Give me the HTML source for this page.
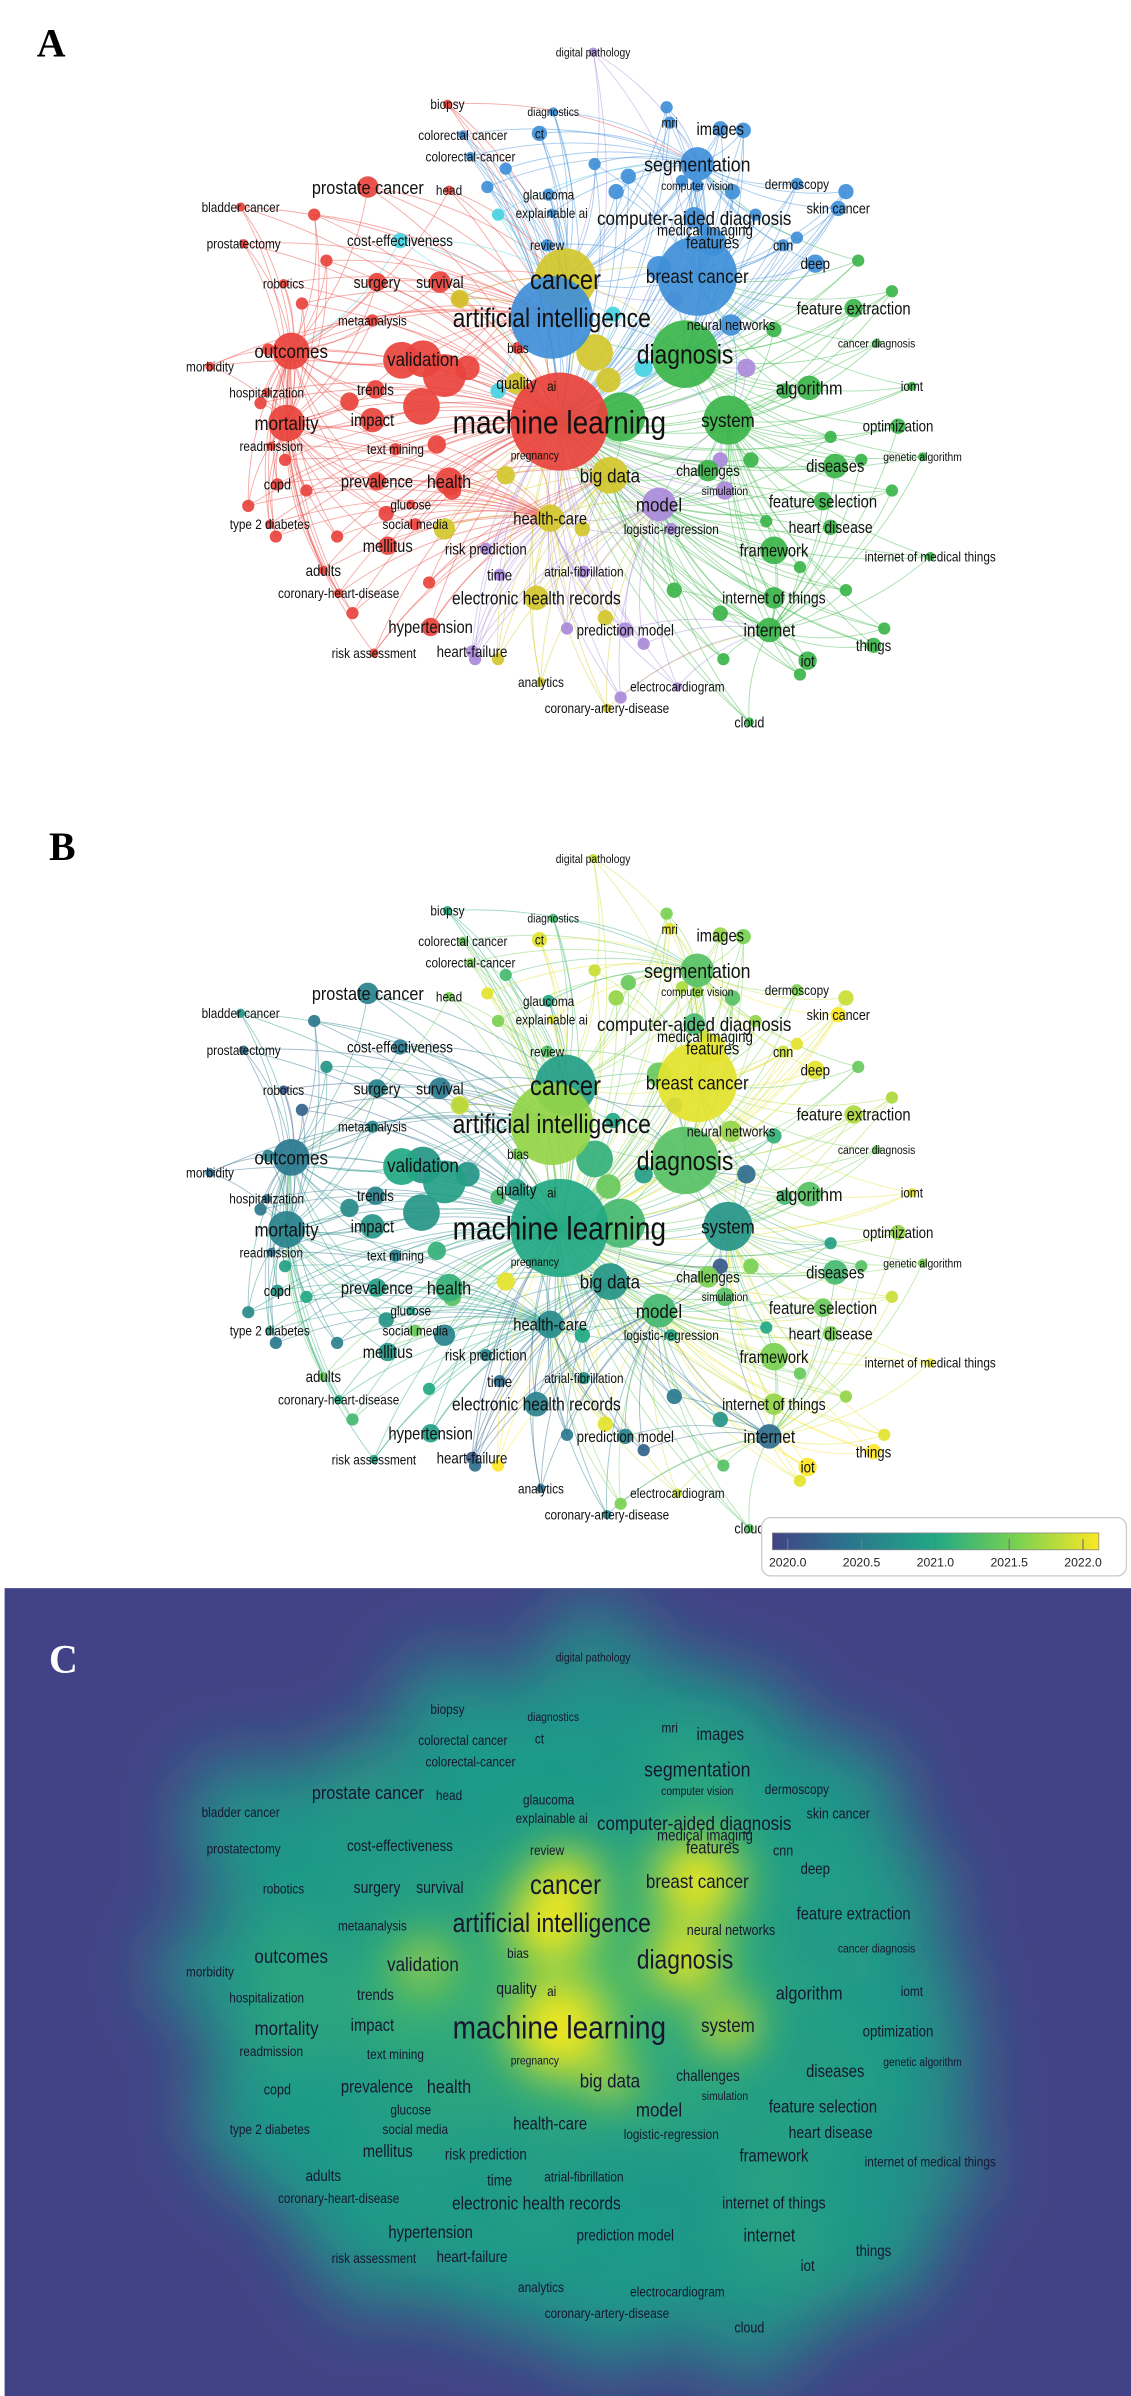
<!DOCTYPE html>
<html><head><meta charset="utf-8">
<style>
html,body{margin:0;padding:0;background:#fff;}
svg{display:block;}
.lbl{font-family:"Liberation Sans",sans-serif;}
.letter{font-family:"Liberation Serif",serif;font-weight:bold;}
</style></head>
<body>
<svg id="fig" width="1131" height="2396" viewBox="0 0 738 1563" preserveAspectRatio="none" xmlns="http://www.w3.org/2000/svg">
<defs>
<filter id="blurBig" x="-50%" y="-50%" width="200%" height="200%"><feGaussianBlur stdDeviation="22"/></filter>
<filter id="blurMid" x="-50%" y="-50%" width="200%" height="200%"><feGaussianBlur stdDeviation="14"/></filter>
<linearGradient id="viridisGrad" x1="0" x2="1" y1="0" y2="0">
<stop offset="0" stop-color="#414487"/><stop offset="0.25" stop-color="#2a788e"/><stop offset="0.5" stop-color="#22a884"/><stop offset="0.75" stop-color="#7ad151"/><stop offset="1" stop-color="#fde725"/>
</linearGradient>
</defs>
<g id="panelA"></g>
<g id="panelB"></g>
<g id="panelC"></g>
</svg>
<script>
// ---- data (layout coordinates in display units, panel A frame) ----
const labels = ["digital pathology","mri","images","segmentation","biopsy","diagnostics","colorectal cancer","ct","colorectal-cancer","computer vision","dermoscopy","glaucoma","computer-aided diagnosis","skin cancer","prostate cancer","head","bladder cancer","explainable ai","medical imaging","prostatectomy","cost-effectiveness","review","features","cnn","deep","surgery","survival","cancer","breast cancer","robotics","feature extraction","metaanalysis","artificial intelligence","neural networks","cancer diagnosis","outcomes","morbidity","validation","bias","diagnosis","hospitalization","trends","quality","ai","algorithm","iomt","mortality","impact","machine learning","system","optimization","readmission","text mining","pregnancy","genetic algorithm","diseases","copd","prevalence","health","big data","challenges","simulation","model","feature selection","glucose","type 2 diabetes","social media","health-care","logistic-regression","heart disease","mellitus","risk prediction","framework","internet of medical things","adults","time","atrial-fibrillation","coronary-heart-disease","electronic health records","internet of things","hypertension","prediction model","internet","risk assessment","heart-failure","iot","things","analytics","electrocardiogram","coronary-artery-disease","cloud"];
const nodeX = [387,437,470,455,292,361,302,352,307,455,520,358,453,547,240,293,157,360,460,159,261,357,465,511,532,246,287,369,455,185,557,243,360,477,572,190,137,276,338,447,174,245,337,360,528,595,187,243,365,475,586,177,258,349,602,545,181,246,293,398,462,473,430,537,268,176,271,359,438,542,253,317,505,607,211,326,381,221,350,505,281,408,502,244,308,527,570,353,442,396,489];
const nodeY = [34,80,84,107,68,73,88,87,102,121,120,127,142,136,122,124,135,139,150,159,157,160,158,160,172,184,184,182,180,185,201,209,207,212,224,229,239,234,227,231,256,254,250,252,253,252,276,274,275,274,278,291,293,297,298,304,316,314,314,310,307,320,329,327,329,342,342,338,345,344,356,358,359,363,372,375,373,387,390,390,409,411,411,426,425,431,421,445,448,462,471];
const fontSizes = [7,8,10,12,8,7,8,8,8,7,8,8,11.5,8.5,11,8,8,8,9,8,9,8,10,8.5,9,9.5,9.5,16,11.5,8,10,8,15.5,8.5,7,11.5,8,11.5,8,15.5,8,9,9.5,8,11,8,11.5,10,19,11.5,9,8,8,7,7,10,8.5,10,11,11.5,9,7,11.5,10,8,8,8,10,8,9.5,10,9,10,8,9,9,8,8,10.5,9.5,10,9,10.5,8,9,9,9,8,8,8,8.5];
const radii = [3,4,5,11,3,3,3,5,3,4,4,4,7,5,7,3,3,3,4,3,5,4,9,4,6,6,7,20,26,3,6,4,27,7,3,12,3,12,4,22,3,6,7,4,8,3,12,8,32,16,5,3,4,3,3,8,4,6,9,12,7,6,11,6,3,3,4,9,4,5,6,4,9,3,3,4,4,3,8,7,6,5,8,3,4,6,5,3,3,3,3];
const clusters = ["p","b","b","b","r","b","b","b","b","b","b","b","b","b","r","r","r","b","b","r","c","b","b","b","b","r","r","y","b","r","g","r","b","b","g","r","r","r","r","g","r","r","y","y","g","g","r","r","r","g","g","r","r","r","g","g","r","r","r","y","g","p","p","g","r","r","r","y","p","g","r","p","g","g","r","p","p","r","y","g","r","p","g","r","p","g","g","y","p","y","g"];
const years = [2021.8,2021.9,2021.6,2021.3,2021.0,2021.2,2021.4,2021.9,2021.5,2021.6,2021.5,2021.0,2021.2,2022.0,2020.6,2021.5,2020.8,2021.9,2021.8,2020.4,2020.5,2021.3,2021.9,2021.8,2021.9,2020.6,2020.5,2020.9,2021.9,2020.2,2021.7,2020.7,2021.6,2021.6,2021.4,2020.5,2020.4,2020.8,2021.5,2021.3,2020.4,2020.6,2020.9,2021.8,2021.3,2021.9,2020.6,2020.8,2021.0,2020.8,2021.6,2020.4,2020.6,2020.6,2021.5,2021.2,2020.8,2020.9,2021.1,2020.8,2021.5,2021.3,2021.2,2021.4,2020.9,2020.9,2021.4,2020.7,2021.0,2021.5,2020.8,2020.6,2021.5,2021.9,2021.4,2020.4,2020.8,2021.0,2020.6,2021.6,2020.9,2020.6,2020.4,2021.0,2020.2,2022.0,2022.0,2020.4,2021.8,2020.6,2021.3];
const extraX = [205,213,197,175,170,186,162,200,220,230,300,305,290,262,228,252,285,180,280,295,275,435,445,410,388,330,318,478,493,552,430,402,520,485,560,582,505,512,542,562,490,500,582,522,552,577,470,440,522,472,405,300,388,397,330,380,290,325,395,440,487,470,370,420,405,310,325,325,400,420];
const extraY = [140,170,198,228,263,300,330,320,350,400,195,240,245,235,262,335,290,350,380,320,265,70,118,115,107,110,122,125,140,125,175,125,155,85,170,190,215,255,285,300,300,340,320,370,385,410,400,385,440,430,272,195,230,248,310,345,345,430,403,195,240,300,410,420,455,430,255,140,205,240];
const extraR = [4,4,4,4,4,4,4,4,4,4,5,8,14,12,6,5,6,4,4,6,12,4,4,5,4,4,4,5,4,5,8,5,4,5,4,4,5,5,4,4,5,4,4,4,4,4,5,5,4,4,16,6,12,8,6,5,7,4,5,5,6,5,4,4,4,4,5,4,5,6];
const extraC = ["r","r","r","r","r","r","r","r","r","r","r","r","r","r","r","r","r","r","r","r","r","b","b","b","b","b","b","b","b","b","b","b","b","b","g","g","g","g","g","g","g","g","g","g","g","g","g","g","g","g","g","y","y","y","y","y","y","y","y","p","p","p","p","p","p","p","c","c","c","c"];
const extraYear = [2020.5,2020.8,2020.3,2020.6,2020.5,2020.9,2020.7,2021.0,2020.6,2021.2,2020.5,2020.8,2020.9,2021.0,2020.7,2020.8,2021.1,2020.5,2021.0,2021.3,2020.8,2021.5,2021.7,2021.4,2021.8,2021.2,2021.9,2021.3,2021.6,2021.8,2021.4,2021.6,2021.9,2021.5,2021.4,2021.7,2021.1,2021.2,2020.9,2021.3,2021.5,2021.0,2021.8,2021.4,2021.6,2021.9,2020.8,2020.5,2021.9,2021.3,2021.2,2021.8,2021.1,2021.4,2021.9,2021.0,2020.6,2022.0,2021.9,2020.3,2020.4,2020.2,2020.5,2020.3,2021.5,2020.4,2021.2,2021.5,2021.0,2020.9];
const yearTicks = [2020.0,2020.5,2021.0,2021.5,2022.0];
const hotspotLabels = ["machine learning","artificial intelligence","cancer","diagnosis","breast cancer","system","validation","big data"];

// ---- rendering ----
const NS = "http://www.w3.org/2000/svg";
const clusterColor = {r:"#e8433c",b:"#3f8fd8",g:"#3bb54a",y:"#d2c72c",p:"#a98ad9",c:"#47d2e2"};
const viridis = [[65,68,135],[42,120,142],[34,168,132],[122,209,81],[253,231,37]];
function yearColor(y){
  let t = Math.max(0, Math.min(1, (y-2020)/2)) * 4;
  const i = Math.min(3, Math.floor(t)); const f = t - i;
  const a = viridis[i], b = viridis[i+1];
  return "rgb(" + [0,1,2].map(k => Math.round(a[k] + (b[k]-a[k])*f)).join(",") + ")";
}
function el(tag, attrs, parent){
  const e = document.createElementNS(NS, tag);
  for (const k in attrs) e.setAttribute(k, attrs[k]);
  parent.appendChild(e); return e;
}
const allX = nodeX.concat(extraX), allY = nodeY.concat(extraY);
const allR = radii.concat(extraR), allC = clusters.concat(extraC), allYr = years.concat(extraYear);
const hubNames = ["machine learning","artificial intelligence","cancer","diagnosis","breast cancer","system","model","big data","outcomes","segmentation","health-care","internet","mortality"];
const hubs = hubNames.map(n => labels.indexOf(n));

function drawNetwork(g, dy, colorFn, panelKey){
  const edges = el("g", {}, g);
  
  
  for (let i = 0; i < allX.length; i++){
    const near = hubs.filter(h => h !== i).map(h => [h, Math.hypot(allX[h]-allX[i], allY[h]-allY[i])]).sort((a,b)=>a[1]-b[1]).slice(0,3).map(p=>p[0]);
    if (near.indexOf(hubs[0]) < 0 && i !== hubs[0]) near.push(hubs[0]);
    near.forEach(h => {
      const x1 = allX[i], y1 = allY[i] + dy, x2 = allX[h], y2 = allY[h] + dy;
      const mx = (x1+x2)/2 + (y2-y1)*0.15, my = (y1+y2)/2 - (x2-x1)*0.15;
      const p = el("path", {d:`M${x1},${y1} Q${mx},${my} ${x2},${y2}`, fill:"none", stroke:colorFn(i), "stroke-width":0.6, "stroke-opacity":0.45}, edges);
      
      
    });
  }
  const order = allR.map((r,i)=>i).sort((a,b)=>allR[a]-allR[b]);
  order.forEach(i => {
    const c = el("circle", {cx:allX[i], cy:allY[i]+dy, r:allR[i], fill:colorFn(i), "fill-opacity":0.92}, g);
    
    
  });
  drawLabels(g, dy, "#111", panelKey);
}
function drawLabels(g, dy, fill, panelKey){
  labels.forEach((lab, i) => {
    const fs = fontSizes[i]*1.12;
    const x = nodeX[i];
    const t = el("text", {class:"lbl", x:x, y:nodeY[i]+dy+fs*0.36, "font-size":fs, "text-anchor":"middle", fill:fill, transform:`translate(${x} 0) scale(0.86 1) translate(${-x} 0)`}, g);
    t.textContent = lab;
    
    
  });
}

// Panel A
const gA = document.getElementById("panelA");
const tA = el("text", {class:"letter", x:24, y:37, "font-size":26, fill:"#000"}, gA);
tA.textContent = "A";


drawNetwork(gA, 0, i => clusterColor[allC[i]], "panel-a");

// Panel B
const dyB = 526;
const gB = document.getElementById("panelB");
const tB = el("text", {class:"letter", x:32, y:561, "font-size":26, fill:"#000"}, gB);
tB.textContent = "B";


drawNetwork(gB, dyB, i => yearColor(allYr[i]), "panel-b");
const cb = el("g", {}, gB);


el("rect", {x:497, y:990, width:238, height:38, rx:6, fill:"#fff", stroke:"#c8c8c8", "stroke-width":0.8}, cb);
el("rect", {x:504, y:1000, width:213, height:11, fill:"url(#viridisGrad)", stroke:"#888", "stroke-width":0.5}, cb);
const barX = v => 514 + (v-2020)/2*(706.7-514);
yearTicks.forEach(v => {
  el("line", {x1:barX(v), x2:barX(v), y1:1004, y2:1011, stroke:"#777", "stroke-width":0.8}, cb);
  const t = el("text", {class:"lbl", x:barX(v), y:1022, "font-size":8, "text-anchor":"middle", fill:"#222"}, cb);
  t.textContent = v.toFixed(1);
  
  
});

// Panel C
const dyC = 1047;
const gC = document.getElementById("panelC");
el("rect", {x:3, y:1036, width:735, height:527, fill:"#424386"}, gC);
const clip = el("clipPath", {id:"clipC"}, gC);
el("rect", {x:3, y:1036, width:735, height:527}, clip);
const dens = el("g", {"clip-path":"url(#clipC)"}, gC);
const glow1 = el("g", {filter:"url(#blurBig)"}, dens);
allX.forEach((x,i) => el("circle", {cx:x, cy:allY[i]+dyC, r:34+allR[i]*0.6, fill:"#1f9a8a", "fill-opacity":0.8}, glow1));
const glow2 = el("g", {filter:"url(#blurBig)"}, dens);
allX.forEach((x,i) => { if (allR[i] >= 6) el("circle", {cx:x, cy:allY[i]+dyC, r:allR[i]*1.5, fill:"#5cc65e", "fill-opacity":0.6}, glow2); });
const glow3 = el("g", {filter:"url(#blurMid)"}, dens);
hotspotLabels.forEach(n => {
  const i = labels.indexOf(n);
  el("circle", {cx:nodeX[i], cy:nodeY[i]+dyC, r:radii[i]*0.95, fill:"#f2e81a", "fill-opacity":1}, glow3);
});
const tC = el("text", {class:"letter", x:32, y:1091, "font-size":26, fill:"#fff"}, gC);
tC.textContent = "C";


drawLabels(gC, dyC, "#161630", "panel-c");
</script>
</body></html>
